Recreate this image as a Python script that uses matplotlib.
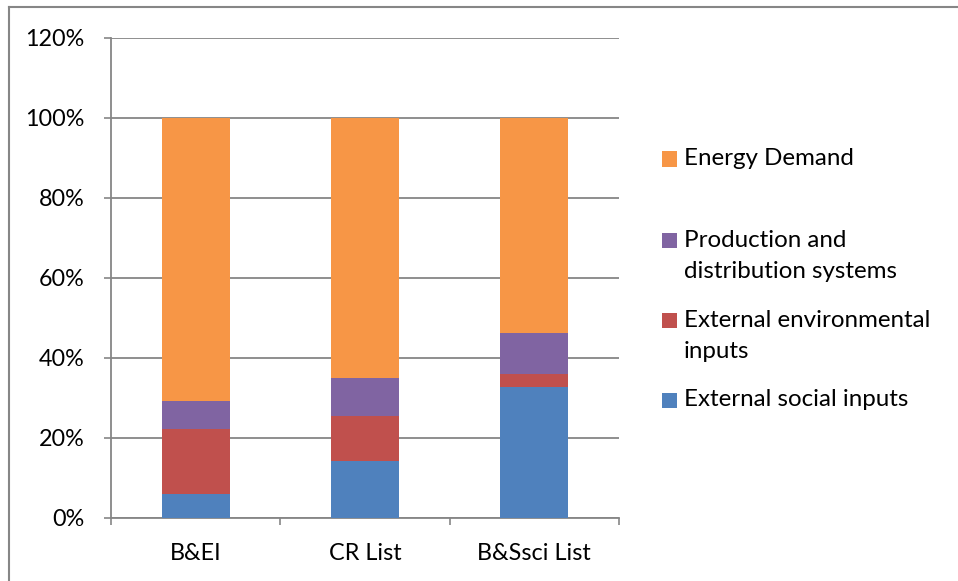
import matplotlib
matplotlib.use("Agg")
import matplotlib.pyplot as plt
from matplotlib.patches import Rectangle
from matplotlib.lines import Line2D
from matplotlib.ticker import FixedLocator, PercentFormatter

plt.rcParams['font.family'] = ['Lato', 'DejaVu Sans']

categories = ["B&EI", "CR List", "B&Ssci List"]
series_names = ["External social inputs", "External environmental inputs",
                "Production and distribution systems", "Energy Demand"]
social = [5.9, 14.3, 32.8]
environmental = [16.3, 11.1, 3.1]
production = [7.1, 9.5, 10.35]
energy = [70.7, 65.1, 53.75]
yticks = [0, 20, 40, 60, 80, 100, 120]

colors = ["#4F81BD", "#C0504D", "#8064A2", "#F79646"]
grid_c = "#868686"
FS_TICK = 16.8
FS_LEG = 17.4

W, H = 958, 581
fig = plt.figure(figsize=(W / 100, H / 100), dpi=100)
ax = fig.add_axes([111 / W, 1 - 517.7 / H, (619 - 111) / W, (517.7 - 37.7) / H])

x = list(range(len(categories)))
bottom = [0.0] * len(categories)
for vals, c in zip([social, environmental, production, energy], colors):
    ax.bar(x, vals, width=0.4, bottom=bottom, color=c, zorder=3, linewidth=0)
    bottom = [b + v for b, v in zip(bottom, vals)]

ax.set_xlim(-0.5, len(categories) - 0.5)
ax.set_ylim(0, 120)
ax.set_yticks(yticks)
ax.yaxis.set_major_formatter(PercentFormatter(decimals=0))
ax.grid(axis='y', color=grid_c, linewidth=1.3, zorder=0)
ax.set_axisbelow(True)

ax.set_xticks(x)
ax.set_xticklabels(categories)
ax.xaxis.set_minor_locator(FixedLocator([i - 0.5 for i in range(len(categories) + 1)]))
ax.tick_params(axis='x', which='major', length=0, pad=18, labelsize=FS_TICK)
ax.tick_params(axis='x', which='minor', length=5, width=1.2, color=grid_c, direction='out')
ax.tick_params(axis='y', length=5, width=1.2, color=grid_c, pad=14, labelsize=FS_TICK)

for s in ['top', 'right']:
    ax.spines[s].set_visible(False)
for s in ['left', 'bottom']:
    ax.spines[s].set_color(grid_c)
    ax.spines[s].set_linewidth(1.3)

# outer chart border (top and left visible)
fig.add_artist(Line2D([9 / W, 1.0], [1 - 7.3 / H, 1 - 7.3 / H], color=grid_c, lw=1.5,
                      transform=fig.transFigure))
fig.add_artist(Line2D([9 / W, 9 / W], [0.0, 1 - 7.3 / H], color=grid_c, lw=1.5,
                      transform=fig.transFigure))

# legend (Excel-style, right side)
leg_items = [
    (colors[3], series_names[3], 158.5),
    (colors[2], "Production and\ndistribution systems", 256),
    (colors[1], "External environmental\ninputs", 336),
    (colors[0], series_names[0], 400),
]
sq_y = [159, 240.7, 320, 400]
sq = 15
for (c, label, ty), sy in zip(leg_items, sq_y):
    fig.add_artist(Rectangle((661.7 / W, 1 - (sy + sq / 2) / H), sq / W, sq / H,
                             facecolor=c, edgecolor='none', transform=fig.transFigure))
    fig.text(683.5 / W, 1 - ty / H, label, fontsize=FS_LEG, va='center', ha='left',
             linespacing=1.55)

fig.savefig("out.png", dpi=100)
